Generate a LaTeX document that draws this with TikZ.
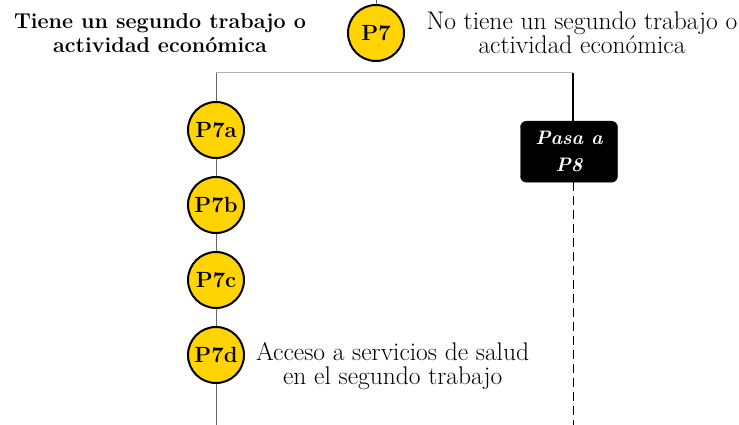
\documentclass[tikz,border=0pt]{standalone}
\usetikzlibrary{positioning}
\definecolor{qyellow}{RGB}{255,212,0}

\begin{document}
\begin{tikzpicture}[x=1pt, y=-1pt,
qnode/.style={circle, draw=black, fill=qyellow, line width=2pt, minimum size=56pt, inner sep=0pt, font=\fontsize{22}{24}\selectfont\bfseries},
jumpnode/.style={rectangle, rounded corners=6pt, draw=black, fill=black, text=white, minimum width=97pt, minimum height=61pt, inner sep=0pt, align=center, font=\fontsize{19.5}{27}\selectfont\bfseries\itshape},
textnode/.style={align=center, inner sep=0pt, font=\fontsize{25.5}{24}\selectfont},
boldnode/.style={textnode, font=\fontsize{21.5}{24}\selectfont\bfseries},
thinline/.style={line width=1pt, draw=black!60},
]
\useasboundingbox (0,0) rectangle (739,425);

%Nodes
\coordinate (top) at (376,0);
\coordinate (lt)  at (216,73);
\coordinate (rt)  at (573,73);
\coordinate (lb)  at (216,425);
\coordinate (rb)  at (573,425);
\node[qnode]     (p7)    at (376,33)           {P7};
\node[boldnode]  (si)    [anchor=north] at (160,13) {Tiene un segundo trabajo o\\actividad económica};
\node[textnode]  (no)    [anchor=north] at (582,12) {No tiene un segundo trabajo o\\actividad económica};
\node[qnode]     (p7a)   [below=28pt of lt]    {P7a};
\node[qnode]     (p7b)   [below=17pt of p7a]   {P7b};
\node[qnode]     (p7c)   [below=17pt of p7b]   {P7c};
\node[qnode]     (p7d)   [below=17pt of p7c]   {P7d};
\node[textnode]  (salud) [right=11pt of p7d, yshift=-11pt] {Acceso a servicios de salud\\en el segundo trabajo};
\node[jumpnode]  (p8)    [below=48pt of rt, xshift=-4pt] {Pasa a\\P8};

%Lines
\draw[thinline] (top) -- (p7.north);
\draw[thinline, draw=black!30] (lt) -- (rt);
\draw[thinline] (lt) -- (p7a.north);
\draw[thinline] (p7a) -- (p7b);
\draw[thinline] (p7b) -- (p7c);
\draw[thinline] (p7c) -- (p7d);
\draw[thinline] (p7d.south) -- (lb);
\draw[line width=2pt] (rt) -- (rt |- p8.north);
\draw[line width=1pt, dash pattern=on 9pt off 5pt] (rt |- p8.south) -- (rb);
\end{tikzpicture}
\end{document}
